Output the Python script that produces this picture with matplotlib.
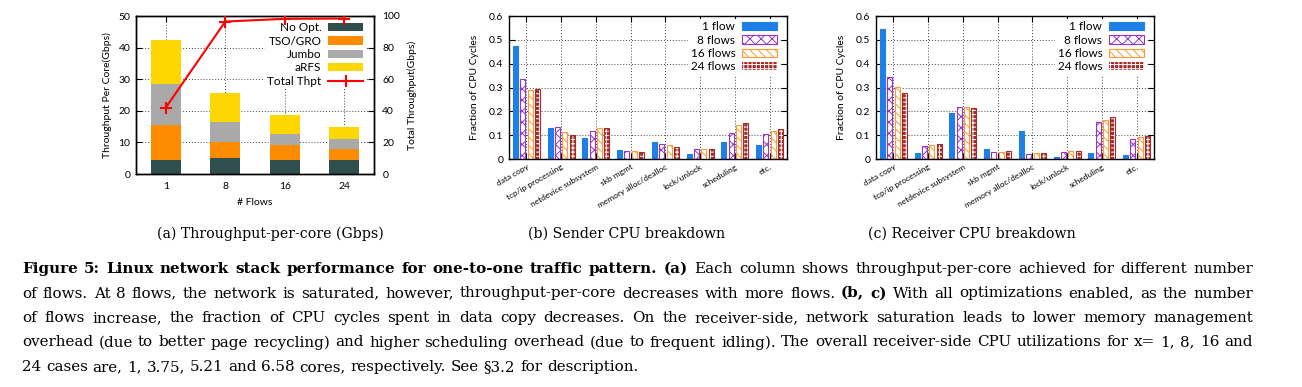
import matplotlib
matplotlib.use("Agg")
import matplotlib.pyplot as plt
import numpy as np
from matplotlib.lines import Line2D
from matplotlib.patches import Patch

W, H = 1302, 387

# ---- data: (a) throughput per core, stacked increments ----
flows = ["1", "8", "16", "24"]
no_opt = [4.5, 5.0, 4.5, 4.5]
tso_gro = [11.0, 5.2, 4.7, 3.4]
jumbo = [13.0, 6.3, 3.5, 3.2]
arfs = [14.0, 9.1, 6.1, 3.9]
total_thpt = [42.0, 96.5, 98.2, 98.4]

# ---- data: (b, c) CPU breakdown ----
categories = ["data copy", "tcp/ip processing", "netdevice subsystem", "skb mgmt",
              "memory alloc/dealloc", "lock/unlock", "scheduling", "etc."]
flow_labels = ["1 flow", "8 flows", "16 flows", "24 flows"]
sender_1 = [0.473, 0.132, 0.089, 0.039, 0.072, 0.022, 0.072, 0.057]
sender_8 = [0.336, 0.134, 0.116, 0.035, 0.064, 0.043, 0.109, 0.103]
sender_16 = [0.290, 0.114, 0.131, 0.033, 0.057, 0.043, 0.142, 0.119]
sender_24 = [0.295, 0.100, 0.131, 0.030, 0.051, 0.044, 0.149, 0.124]
recv_1 = [0.545, 0.024, 0.194, 0.043, 0.116, 0.010, 0.026, 0.018]
recv_8 = [0.344, 0.056, 0.219, 0.029, 0.022, 0.029, 0.155, 0.084]
recv_16 = [0.301, 0.060, 0.217, 0.031, 0.025, 0.035, 0.164, 0.093]
recv_24 = [0.279, 0.064, 0.212, 0.032, 0.026, 0.035, 0.177, 0.096]

SANS = "Lato"
SERIF = "DejaVu Serif"
FS = 7.5
plt.rcParams["font.family"] = SANS
plt.rcParams["hatch.linewidth"] = 0.7

fig = plt.figure(figsize=(W / 100, H / 100), dpi=100)


def ax_px(left, top, right, bottom):
    return fig.add_axes([left / W, 1 - bottom / H, (right - left) / W, (bottom - top) / H])


def style(ax):
    for s in ax.spines.values():
        s.set_linewidth(1.0)
        s.set_color("black")
    ax.tick_params(direction="in", length=4, width=0.8, labelsize=FS, colors="black")


grid_kw = dict(color="#444444", linestyle=(0, (1, 2)), linewidth=0.7)

# ---------------- (a) ----------------
ax = ax_px(136, 16, 374, 174)
style(ax)
x = np.arange(len(flows))
bw = 0.5
colors_a = ["#2F4F4F", "#FF8C00", "#A9A9A9", "#FFD700"]
names_a = ["No Opt.", "TSO/GRO", "Jumbo", "aRFS"]
bottom = np.zeros(len(flows))
handles = []
for vals, c, n in zip([no_opt, tso_gro, jumbo, arfs], colors_a, names_a):
    ax.bar(x, vals, bw, bottom=bottom, color=c, edgecolor="none", zorder=2)
    bottom += np.array(vals)
    handles.append(Patch(facecolor=c, edgecolor="none", label=n))
ax.set_xlim(-0.5, 3.5)
ax.set_ylim(0, 50)
ax.set_yticks(range(0, 51, 10))
ax.set_xticks(x)
ax.set_xticklabels(flows)
ax.tick_params(axis="x", top=True, pad=6)
ax.tick_params(axis="y", pad=4)
ax.set_axisbelow(True)
ax.grid(True, **grid_kw)
ax.set_xlabel("# Flows", fontsize=FS, labelpad=5)
ax.set_ylabel("Throughput Per Core(Gbps)", fontsize=FS, labelpad=5)

ax2 = ax.twinx()
style(ax2)
ax2.set_ylim(0, 100)
ax2.set_yticks(range(0, 101, 20))
ax2.tick_params(axis="y", pad=6)
ax2.plot(x, total_thpt, color="red", lw=1.5, marker="+", ms=8, mew=1.5, zorder=3)
ax2.set_ylabel("Total Throughput(Gbps)", fontsize=FS, labelpad=5)
handles.append(Line2D([], [], color="red", lw=1.5, marker="+", ms=8, mew=1.5, label="Total Thpt"))
leg = ax2.legend(handles=handles, loc="upper right", bbox_to_anchor=(1 - 9 / 238, 1 - 4 / 158),
                 borderaxespad=0, borderpad=0.2, fontsize=FS + 1, markerfirst=False,
                 handlelength=2.9, handleheight=0.7, handletextpad=0.6, labelspacing=0.2,
                 frameon=True, fancybox=False, framealpha=1, facecolor="white", edgecolor="none")
leg.set_zorder(2.5)


# ---------------- (b), (c) ----------------
def breakdown(left, right, series):
    axb = ax_px(left, 16, right, 159)
    style(axb)
    g = np.arange(len(categories))
    stride, w = 0.21, 0.145
    specs = [
        dict(facecolor="#1E7FE6", edgecolor="#1E7FE6", hatch=None),
        dict(facecolor="white", edgecolor="#9932CC", hatch="xxx"),
        dict(facecolor="white", edgecolor="#FF9A33", hatch="\\\\\\\\"),
        dict(facecolor="#A52A2A", edgecolor="white", hatch="++++"),
    ]
    hs = []
    for i, (vals, sp, lab) in enumerate(zip(series, specs, flow_labels)):
        pos = g + (i - 1.5) * stride
        if i == 3:
            axb.bar(pos, vals, w, facecolor=sp["facecolor"], edgecolor="white",
                    hatch=sp["hatch"], linewidth=0, zorder=2)
            axb.bar(pos, vals, w, fill=False, edgecolor="#A52A2A", linewidth=0.8, zorder=2)
            hs.append(Patch(facecolor="#A52A2A", edgecolor="white", hatch="++++",
                            linewidth=0, label=lab))
        else:
            axb.bar(pos, vals, w, facecolor=sp["facecolor"], edgecolor=sp["edgecolor"],
                    hatch=sp["hatch"], linewidth=0.8, zorder=2)
            hs.append(Patch(facecolor=sp["facecolor"], edgecolor=sp["edgecolor"],
                            hatch=sp["hatch"], linewidth=0.8, label=lab))
    axb.set_xlim(-0.5, len(categories) - 0.5)
    axb.set_ylim(0, 0.6)
    axb.set_yticks([0, 0.1, 0.2, 0.3, 0.4, 0.5, 0.6])
    axb.set_yticklabels(["0", "0.1", "0.2", "0.3", "0.4", "0.5", "0.6"])
    axb.set_xticks(g)
    axb.set_xticklabels(categories, rotation=30, ha="right", rotation_mode="anchor",
                        fontsize=FS - 1.5)
    axb.tick_params(axis="x", top=True, pad=3)
    axb.tick_params(axis="y", right=True, pad=4)
    axb.set_axisbelow(True)
    axb.grid(True, **grid_kw)
    axb.set_ylabel("Fraction of CPU Cycles", fontsize=FS, labelpad=7)
    axb.legend(handles=hs, loc="upper right", bbox_to_anchor=(1 - 8 / 278, 1 - 3 / 143),
               borderaxespad=0, borderpad=0.2, fontsize=FS + 1, markerfirst=False,
               handlelength=2.9, handleheight=0.7, handletextpad=0.6, labelspacing=0.2,
               frameon=True, fancybox=False, framealpha=1, facecolor="white", edgecolor="none")
    return axb


breakdown(509, 787, [sender_1, sender_8, sender_16, sender_24])
breakdown(876, 1154, [recv_1, recv_8, recv_16, recv_24])

# ---------------- captions ----------------
renderer = fig.canvas.get_renderer()


def text_w(s, size, bold=False):
    t = fig.text(0, 0, s, family=SERIF, fontsize=size,
                 fontweight="bold" if bold else "normal")
    w = t.get_window_extent(renderer).width
    t.remove()
    return w


# sub-captions: fit "(a) Throughput-per-core (Gbps)" to ~226 px
sub_fs = 10 * 226 / text_w("(a) Throughput-per-core (Gbps)", 10)
for cx, txt in [(270, "(a) Throughput-per-core (Gbps)"),
                (627, "(b) Sender CPU breakdown"),
                (972, "(c) Receiver CPU breakdown")]:
    fig.text(cx / W, 1 - 238 / H, txt, ha="center", va="baseline",
             family=SERIF, fontsize=sub_fs)

B, N = True, False
caption = [
    [("Figure 5: Linux network stack performance for one-to-one traffic pattern.", B),
     ("(a)", B), ("Each column shows throughput-per-core achieved for different number", N)],
    [("of flows. At 8 flows, the network is saturated, however, throughput-per-core "
      "decreases with more flows.", N), ("(b, c)", B),
     ("With all optimizations enabled, as the number", N)],
    [("of flows increase, the fraction of CPU cycles spent in data copy decreases. On the "
      "receiver-side, network saturation leads to lower memory management", N)],
    [("overhead (due to better page recycling) and higher scheduling overhead (due to "
      "frequent idling). The overall receiver-side CPU utilizations for x= 1, 8, 16 and", N)],
    [("24 cases are, 1, 3.75, 5.21 and 6.58 cores, respectively. See \u00a73.2 for description.", N)],
]
x0, x1 = 22, 1253
baselines = [273, 297.5, 322, 346.5, 371]

# choose the caption size so the widest justified line fits with normal spacing
base = 10
sp_base = text_w("a a", base) - text_w("aa", base)
natural = []
for segs in caption[:-1]:
    natural.append(sum(text_w(t, base, b) for t, b in segs) + (len(segs) - 1) * sp_base)
CFS = base * (x1 - x0 - 4) / max(natural)
space_w = text_w("a a", CFS) - text_w("aa", CFS)

for li, (segs, yb) in enumerate(zip(caption, baselines)):
    words = []
    for txt, bold in segs:
        for wd in txt.split(" "):
            words.append((wd, bold))
    arts = []
    for wd, bold in words:
        t = fig.text(0, 1 - yb / H, wd, family=SERIF, fontsize=CFS, va="baseline",
                     ha="left", fontweight="bold" if bold else "normal")
        arts.append(t)
    widths = [t.get_window_extent(renderer).width for t in arts]
    if li == len(caption) - 1:
        gap = space_w
    else:
        gap = (x1 - x0 - sum(widths)) / (len(words) - 1)
    cur = x0
    for t, wdt in zip(arts, widths):
        t.set_x(cur / W)
        cur += wdt + gap

fig.savefig("out.png", dpi=100)
